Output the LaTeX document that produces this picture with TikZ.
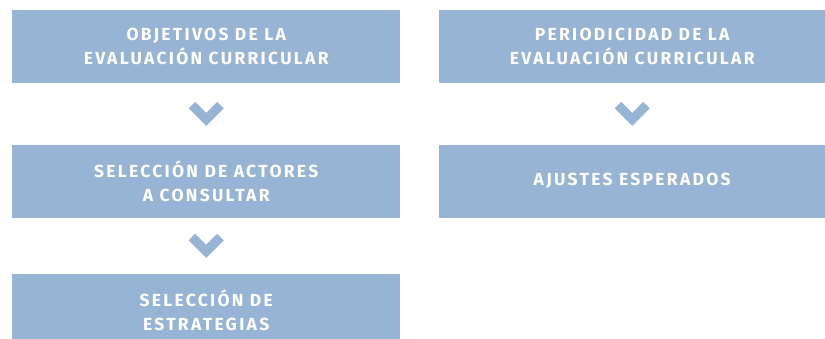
\documentclass[tikz,border=0pt]{standalone}
\usepackage{fontspec}
\newfontfamily\boxfont{Fira Sans}[UprightFont={* Bold}, LetterSpace=13]
\usetikzlibrary{positioning,calc}
\definecolor{boxblue}{HTML}{97B4D5}

\tikzset{
  stagebox/.style={fill=boxblue, text=white, minimum width=388pt, minimum height=73pt,
    inner sep=0pt, align=center, font={\boxfont\fontsize{17.5}{24}\selectfont}},
  chevron/.pic={
    \draw[boxblue, line width=9.2pt] (-14.25,8.75) -- (0,-5.5) -- (14.25,8.75);
  }
}

\begin{document}
\begin{tikzpicture}[x=1pt,y=1pt]
        % page frame
        \useasboundingbox (0,0) rectangle (825,339);
        \clip (0,0) rectangle (825,339);
        % left column
        \node[stagebox, anchor=north west] (obj) at (12,329) {OBJETIVOS DE LA\\EVALUACIÓN CURRICULAR};
        \node[stagebox, below=61pt of obj] (act) {SELECCIÓN DE ACTORES\\A CONSULTAR};
        \node[stagebox, below=56pt of act] (est) {SELECCIÓN DE\\ESTRATEGIAS};
        % right column
        \node[stagebox, minimum width=386pt, anchor=north west] (per) at (439,329) {PERIODICIDAD DE LA\\EVALUACIÓN CURRICULAR};
        \node[stagebox, minimum width=386pt, below=61pt of per] (aju) {AJUSTES ESPERADOS};
        % chevrons
        \pic at ($(obj.south)!.5!(act.north)$) {chevron};
        \pic at ($(act.south)!.5!(est.north)$) {chevron};
        \pic at ($(per.south)!.5!(aju.north)$) {chevron};
      \end{tikzpicture}
\end{document}
